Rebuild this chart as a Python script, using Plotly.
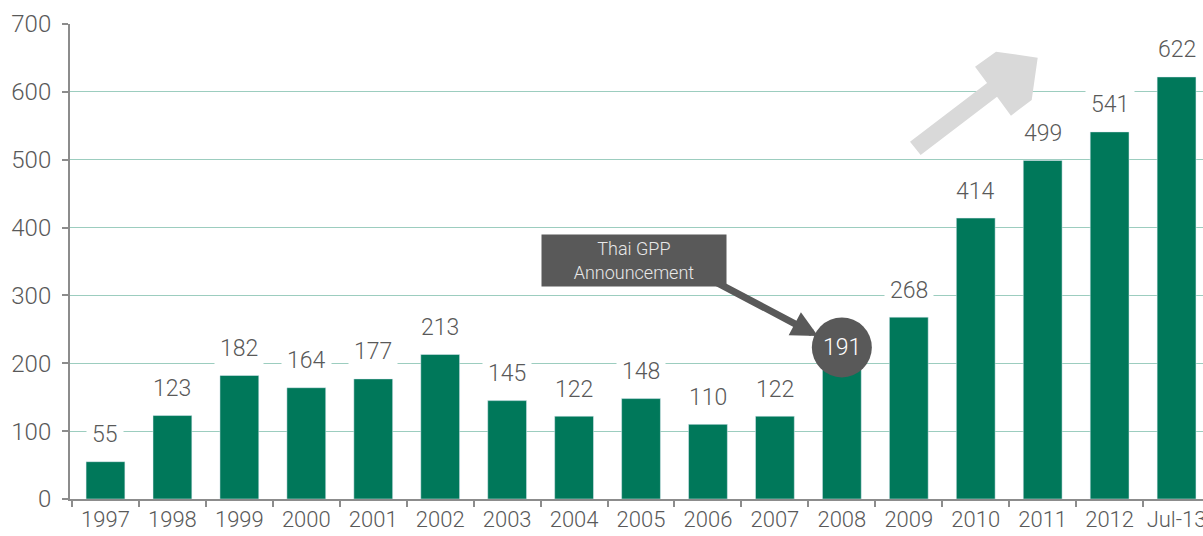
import plotly.graph_objects as go

# Installed capacity by year (MW)
years = ["1997", "1998", "1999", "2000", "2001", "2002", "2003", "2004", "2005",
         "2006", "2007", "2008", "2009", "2010", "2011", "2012", "Jul-13"]
capacity = [55, 123, 182, 164, 177, 213, 145, 122, 148, 110, 122, 191, 268, 414, 499, 541, 622]

y_ticks = [0, 100, 200, 300, 400, 500, 600, 700]
highlight_year = "2008"
callout_text = "Thai GPP<br>Announcement"

BAR = "#00785a"
TEXT = "#595959"
GRID = "#9ccdbf"
AXIS = "#8c8c8c"
FONT = "Roboto"
FS = 23

# plot area geometry (pixels) used to place the decorative callouts
W, H = 1203, 536
L, R, T, B = 70, 0, 24, 37
PW, PH = W - L - R, H - T - B


def px(x, y):
    """Pixel position inside the figure -> paper coordinates."""
    return (x - L) / PW, (H - B - y) / PH


fig = go.Figure()
fig.add_trace(go.Bar(
    x=years, y=capacity, marker_color=BAR, width=0.58,
    hoverinfo="x+y",
))

annotations = []
hi = years.index(highlight_year)
for i, v in enumerate(capacity):
    if i == hi:
        continue
    # category positions are given by index so year strings are not read as numbers
    annotations.append(dict(
        x=i, y=v, xref="x", yref="y", text=str(v), showarrow=False,
        yanchor="middle", yshift=27, bgcolor="white", borderpad=5,
        font=dict(family=FONT, size=FS, color=TEXT, weight=300),
    ))

hv = capacity[hi]

shapes = []
# highlighted value bubble
shapes.append(dict(
    type="circle", xref="x", yref="y", xsizemode="pixel", ysizemode="pixel",
    xanchor=hi, yanchor=hv, x0=-30, x1=30, y0=-8, y1=52,
    fillcolor=TEXT, line=dict(width=0), layer="above",
))
annotations.append(dict(
    x=hi, y=hv, xref="x", yref="y", text=str(hv), showarrow=False,
    yanchor="middle", yshift=22,
    font=dict(family=FONT, size=FS, color="white", weight=300),
))

# big upward trend arrow (outline in pixel space)
zoom_pts = [(90, 425), (321, 249), (285, 200), (348, 155), (473, 173),
            (455, 300), (393, 347), (351, 290), (122, 465)]
pts = [px(880 + zx / 3, zy / 3) for zx, zy in zoom_pts]
path = "M " + " L ".join(f"{a:.4f},{b:.4f}" for a, b in pts) + " Z"
shapes.append(dict(
    type="path", xref="paper", yref="paper", path=path,
    fillcolor="#d9d9d9", line=dict(width=0), layer="above",
))

# callout pointer to the highlighted bubble
tx, ty = px(818, 336)
annotations.append(dict(
    x=tx, y=ty, xref="paper", yref="paper", text="", showarrow=True,
    ax=-106, ay=-56, arrowcolor=TEXT, arrowwidth=7, arrowhead=2, arrowsize=0.75,
    standoff=0, startstandoff=0,
))

# callout box
bx, by = px(634, 260.5)
annotations.append(dict(
    x=bx, y=by, xref="paper", yref="paper", text=callout_text, showarrow=False,
    xanchor="center", yanchor="middle", width=184, height=51,
    bgcolor=TEXT, borderpad=0, align="center",
    font=dict(family=FONT, size=18, color="#e8e8e8", weight=300),
))

fig.update_layout(
    width=W, height=H,
    margin=dict(l=L, r=R, t=T, b=B, pad=0, autoexpand=False),
    paper_bgcolor="white", plot_bgcolor="white",
    showlegend=False, bargap=0.42,
    annotations=annotations, shapes=shapes,
    font=dict(family=FONT, color=TEXT),
)
fig.update_xaxes(
    type="category", range=[-0.53, 16.395], automargin=False, tickangle=0,
    showline=True, linecolor=AXIS, linewidth=2,
    ticks="outside", tickson="boundaries", ticklen=6, tickcolor=AXIS, tickwidth=1.5,
    ticklabelstandoff=0,
    tickfont=dict(family=FONT, size=22, color=TEXT, weight=300),
    showgrid=False, fixedrange=True,
)
fig.update_yaxes(
    range=[0, 700], tickvals=y_ticks, automargin=False,
    showline=True, linecolor=AXIS, linewidth=2,
    ticks="outside", ticklen=6, tickcolor=AXIS, tickwidth=1.5,
    ticklabelstandoff=6,
    tickfont=dict(family=FONT, size=FS + 1, color=TEXT, weight=300),
    showgrid=True, gridcolor=GRID, gridwidth=1.2,
    zeroline=False, fixedrange=True,
)

fig.write_html("out.html")
